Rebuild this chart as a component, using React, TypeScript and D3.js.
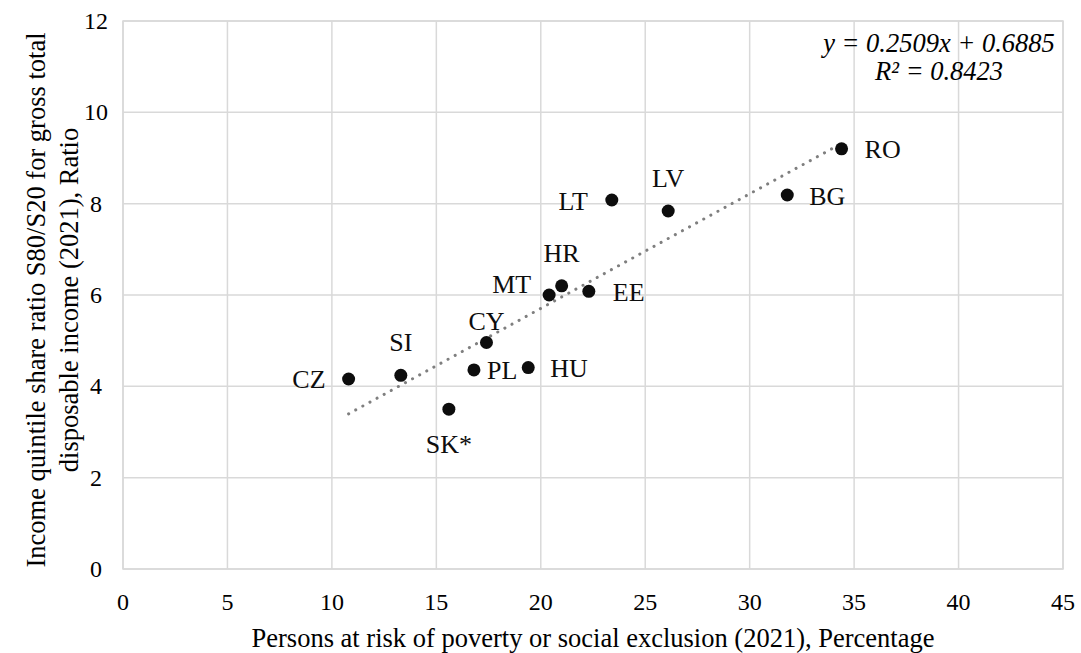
import React from "react";
import * as d3 from "d3";

// countries and their values
const countries = ["CZ", "SI", "SK*", "PL", "CY", "HU", "MT", "HR", "EE", "LT", "LV", "BG", "RO"];
const povertyRisk = [10.8, 13.3, 15.6, 16.8, 17.4, 19.4, 20.4, 21.0, 22.3, 23.4, 26.1, 31.8, 34.4];
const quintileRatio = [4.16, 4.24, 3.5, 4.36, 4.96, 4.41, 6.0, 6.2, 6.08, 8.08, 7.84, 8.19, 9.2];

const xTicks = [0, 5, 10, 15, 20, 25, 30, 35, 40, 45];
const yTicks = [0, 2, 4, 6, 8, 10, 12];

const slope = 0.2509;
const intercept = 0.6885;
const rSquared = "0.8423";

// label placement around each point
const labelPos: Record<string, { dx: number; dy: number; anchor: string }> = {
  CZ: { dx: -23, dy: 9, anchor: "end" },
  SI: { dx: 0, dy: -24, anchor: "middle" },
  "SK*": { dx: 0, dy: 44, anchor: "middle" },
  PL: { dx: 13, dy: 9, anchor: "start" },
  CY: { dx: 0, dy: -12, anchor: "middle" },
  HU: { dx: 22, dy: 9, anchor: "start" },
  MT: { dx: -18, dy: -2, anchor: "end" },
  HR: { dx: 0, dy: -24, anchor: "middle" },
  EE: { dx: 24, dy: 10, anchor: "start" },
  LT: { dx: -24, dy: 10, anchor: "end" },
  LV: { dx: 0, dy: -24, anchor: "middle" },
  BG: { dx: 22, dy: 10, anchor: "start" },
  RO: { dx: 23, dy: 9, anchor: "start" },
};

const W = 1081;
const H = 653;
const left = 123, right = 1063, top = 21, bottom = 569;
const font = "'Liberation Serif', 'Times New Roman', serif";

export default function App() {
  const x = d3.scaleLinear().domain([0, 45]).range([left, right]);
  const y = d3.scaleLinear().domain([0, 12]).range([bottom, top]);

  const pts = countries.map((c, i) => ({ c, px: povertyRisk[i], py: quintileRatio[i] }));
  const [x0, x1] = d3.extent(povertyRisk) as [number, number];
  const trend = d3.line<number>()
    .x((d) => x(d))
    .y((d) => y(slope * d + intercept))([x0, x1]);

  return (
    <svg width={W} height={H} style={{ position: "absolute", left: 0, top: 0, background: "#fff" }} fontFamily={font}>
      {/* grid */}
      {xTicks.map((t) => (
        <line key={"gx" + t} x1={x(t)} x2={x(t)} y1={top} y2={bottom} stroke="#d9d9d9" strokeWidth={1.5} />
      ))}
      {yTicks.map((t) => (
        <line key={"gy" + t} x1={left} x2={right} y1={y(t)} y2={y(t)} stroke="#d9d9d9" strokeWidth={1.5} />
      ))}
      <rect x={left} y={top} width={right - left} height={bottom - top} fill="none" stroke="#d9d9d9" strokeWidth={1.5} />

      {/* tick labels */}
      {xTicks.map((t) => (
        <text key={"tx" + t} x={x(t)} y={610} fontSize={24} textAnchor="middle" fill="#000">{t}</text>
      ))}
      {yTicks.map((t) => (
        <text key={"ty" + t} x={96} y={y(t) + 8} fontSize={24} textAnchor="middle" fill="#000">{t}</text>
      ))}

      {/* axis titles */}
      <text x={(left + right) / 2} y={647} fontSize={26.5} textAnchor="middle" fill="#000">
        Persons at risk of poverty or social exclusion (2021), Percentage
      </text>
      <g transform={`translate(0, 300) rotate(-90)`}>
        <text x={0} y={45} fontSize={26.5} textAnchor="middle" fill="#000">
          Income quintile share ratio S80/S20 for gross total
        </text>
        <text x={0} y={78} fontSize={26.5} textAnchor="middle" fill="#000">
          disposable income (2021), Ratio
        </text>
      </g>

      {/* trendline */}
      <path d={trend ?? ""} fill="none" stroke="#7f7f7f" strokeWidth={3} strokeDasharray="0.1 8" strokeLinecap="round" />

      {/* points */}
      {pts.map((p) => (
        <circle key={p.c} cx={x(p.px)} cy={y(p.py)} r={6.5} fill="#0d0d0d" />
      ))}

      {/* labels */}
      {pts.map((p) => {
        const l = labelPos[p.c];
        return (
          <text key={"l" + p.c} x={x(p.px) + l.dx} y={y(p.py) + l.dy} fontSize={26} textAnchor={l.anchor} fill="#0d0d0d">
            {p.c}
          </text>
        );
      })}

      {/* equation */}
      <text x={939} y={52} fontSize={26.5} fontStyle="italic" textAnchor="middle" fill="#000">
        y = 0.2509x + 0.6885
      </text>
      <text x={939} y={80} fontSize={26.5} fontStyle="italic" textAnchor="middle" fill="#000">
        R² = {rSquared}
      </text>
    </svg>
  );
}
